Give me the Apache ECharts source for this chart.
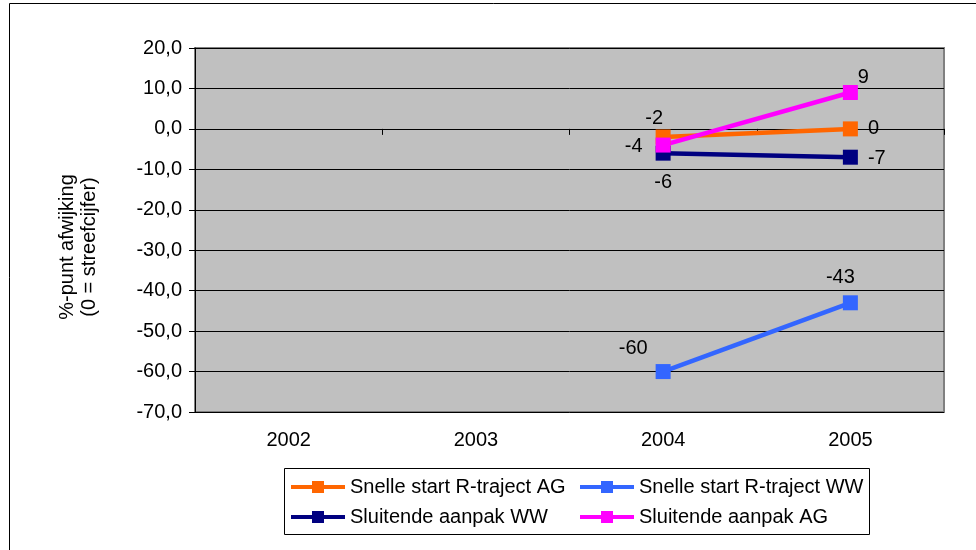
<!DOCTYPE html>
<html>
<head>
<meta charset="utf-8">
<script src="https://cdn.jsdelivr.net/npm/echarts@6/dist/echarts.min.js"></script>
<style>
  html, body { margin: 0; padding: 0; background: #fff; }
  #chart { width: 976px; height: 550px; }
</style>
</head>
<body>
<div id="chart"></div>
<script>
// Years on the category axis
const years = ['2002', '2003', '2004', '2005'];

// Deviation from target, in percentage points (null = no measurement)
const snelleStartAG = [null, null, -2, 0];
const snelleStartWW = [null, null, -60, -43];
const sluitendeWW   = [null, null, -6, -7];
const sluitendeAG   = [null, null, -4, 9];

// Value-axis range
const yMin = -70, yMax = 20, yStep = 10;

const FONT = "'Liberation Sans', Arial, sans-serif";
const FS = 20;

// Per-point label placement: [position, distance, offset]
function withLabels(values, placements) {
  return values.map((v, i) => {
    if (v === null) return null;
    const p = placements[i];
    return {
      value: v,
      label: { show: true, position: p[0], distance: p[1], offset: p[2] }
    };
  });
}

function lineSeries(name, color, values, placements) {
  return {
    name: name,
    type: 'line',
    data: withLabels(values, placements),
    symbol: 'rect',
    symbolSize: 15,
    lineStyle: { color: color, width: 4.5 },
    itemStyle: { color: color },
    label: { color: '#000', fontSize: FS, fontFamily: FONT },
    connectNulls: false,
    animation: false
  };
}

function legendAt(name, left, top) {
  return {
    data: [name],
    left: left,
    top: top,
    itemWidth: 54,
    itemHeight: 15,
    itemGap: 0,
    padding: 0,
    selectedMode: false,
    lineStyle: { width: 4 },
    textStyle: { color: '#000', fontSize: FS, fontFamily: FONT }
  };
}

const chart = echarts.init(document.getElementById('chart'), null, { renderer: 'canvas' });

chart.setOption({
  backgroundColor: '#fff',
  animation: false,
  grid: {
    left: 195, right: 32, top: 48, bottom: 138,
    show: true,
    backgroundColor: '#C0C0C0',
    borderColor: '#808080',
    borderWidth: 2
  },
  graphic: [
    { type: 'rect', shape: { x: 9.5, y: 3.5, width: 1000, height: 600 },
      style: { fill: 'none', stroke: '#000', lineWidth: 1 }, silent: true },
    { type: 'rect', shape: { x: 284.5, y: 468.5, width: 585, height: 66 },
      style: { fill: '#fff', stroke: '#000', lineWidth: 1 }, silent: true, z: -1 },
    { type: 'text', x: 78, y: 247, rotation: Math.PI / 2, silent: true,
      style: { text: '%-punt afwijking\n(0 = streefcijfer)', fill: '#000',
        font: FS + 'px ' + FONT, align: 'center', verticalAlign: 'middle', lineHeight: 22 } }
  ],
  legend: [
    legendAt('Snelle start R-traject AG', 289, 477),
    legendAt('Snelle start R-traject WW', 578, 477),
    legendAt('Sluitende aanpak WW', 289, 507),
    legendAt('Sluitende aanpak AG', 578, 507)
  ],
  xAxis: {
    type: 'category',
    data: years,
    boundaryGap: true,
    axisLine: { lineStyle: { color: '#000', width: 1 } },
    axisTick: { show: true, alignWithLabel: false, length: 6, lineStyle: { color: '#000' } },
    axisLabel: { color: '#000', fontSize: FS, fontFamily: FONT, margin: 18 },
    splitLine: { show: false }
  },
  yAxis: {
    type: 'value',
    min: yMin, max: yMax, interval: yStep,
    axisLine: { show: true, lineStyle: { color: '#000', width: 1 } },
    axisTick: { show: true, length: 6, lineStyle: { color: '#000' } },
    axisLabel: {
      color: '#000', fontSize: FS, fontFamily: FONT, margin: 13,
      formatter: v => v.toFixed(1).replace('.', ',')
    },
    splitLine: { show: true, lineStyle: { color: '#000', width: 1 } }
  },
  series: [
    lineSeries('Snelle start R-traject AG', '#FF6600', snelleStartAG,
      [null, null, ['top', 1, [-9, 0]], ['right', 10, [0, 0]]]),
    lineSeries('Snelle start R-traject WW', '#3366FF', snelleStartWW,
      [null, null, ['left', 8, [0, -23]], ['top', 8, [-10, 0]]]),
    lineSeries('Sluitende aanpak WW', '#000080', sluitendeWW,
      [null, null, ['bottom', 12, [0, 0]], ['right', 10, [0, 1]]]),
    lineSeries('Sluitende aanpak AG', '#FF00FF', sluitendeAG,
      [null, null, ['left', 13, [0, 1]], ['top', 0, [13, 2]]])
  ]
});
</script>
</body>
</html>
